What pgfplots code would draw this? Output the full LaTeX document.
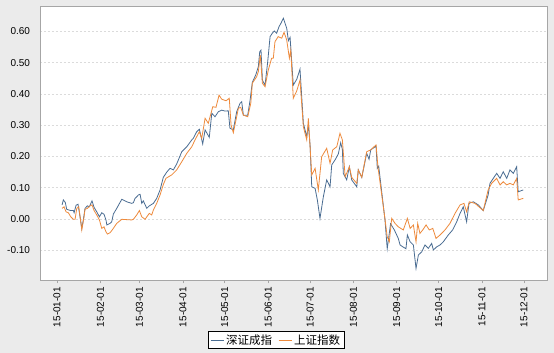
\documentclass[border=0pt]{standalone}
\usepackage{pgfplots}
\pgfplotsset{compat=1.18}
\usepackage{fontspec}
\setmainfont{Liberation Sans}
\newfontfamily\cjk{Noto Sans CJK SC}
\definecolor{bgc}{HTML}{EBEBEB}
\definecolor{framec}{HTML}{A6A6A6}
\definecolor{szblue}{HTML}{4A6D92}
\definecolor{shorange}{HTML}{EE8A3C}
\begin{document}
\begin{tikzpicture}[x=1pt,y=1pt]
\fill[bgc] (0,0) rectangle (554,353);
\useasboundingbox (0,0) rectangle (554,353);
\begin{axis}[
  at={(40pt,73pt)}, anchor=south west,
  scale only axis, width=507pt, height=274pt,
  xmin=-12.2, xmax=350.5, ymin=-0.195, ymax=0.681,
  axis background/.style={fill=white},
  axis line style={framec, line width=0.8pt},
  xtick={0,31,59,90,120,151,181,212,243,273,304,334},
  xticklabels={15-01-01,15-02-01,15-03-01,15-04-01,15-05-01,15-06-01,15-07-01,15-08-01,15-09-01,15-10-01,15-11-01,15-12-01},
  xticklabel style={rotate=90, anchor=east, font=\fontsize{10}{12}\selectfont},
  x tick style={framec, line width=0.6pt},
  tick align=outside, xtick pos=bottom, ytick pos=left,
  major tick length=3.5pt,
  ytick={-0.1,0,0.1,0.2,0.3,0.4,0.5,0.6},
  yticklabels={-0.10,0.00,0.10,0.20,0.30,0.40,0.50,0.60},
  yticklabel style={font=\fontsize{10}{12}\selectfont, xshift=-3pt},
  y tick style={draw=none},
  ymajorgrids, grid style={dash pattern=on 2pt off 2pt, gray!28, line width=0.5pt},
  /pgf/number format/assume math mode=true,
  legend columns=2,
  legend style={at={(0.4655,-0.219)}, anchor=center, draw=black, line width=0.8pt, fill=white,
    font=\cjk\fontsize{11.5}{13}\selectfont, inner xsep=2pt, inner ysep=1pt,
    /tikz/every even column/.append style={column sep=4pt}},
  legend image code/.code={\draw[#1, line width=1pt] (0pt,0pt) -- (13pt,0pt);},
]
\addplot[szblue, line width=0.8pt] coordinates {
(3.6,0.045)(4.5,0.061)(5.9,0.053)(6.9,0.031)(9.8,0.027)(11.7,0.027)(12.2,0.020)(13.6,0.044)
(15.0,0.047)(16.0,0.020)(17.7,-0.030)(18.8,-0.003)(20.0,0.034)(21.7,0.042)(23.1,0.039)(25.0,0.058)
(26.5,0.037)(28.4,0.023)(30.3,0.007)(32.0,0.020)(33.6,0.015)(35.0,-0.003)(35.6,-0.019)(37.9,-0.014)
(39.1,-0.009)(40.3,0.016)(42.7,0.034)(46.3,0.063)(49.9,0.055)(53.4,0.050)(54.6,0.052)(55.8,0.066)
(57.0,0.071)(58.2,0.077)(59.4,0.079)(60.6,0.050)(61.7,0.058)(64.2,0.034)(66.0,0.042)(68.9,0.050)
(71.3,0.066)(73.7,0.093)(76.0,0.133)(78.5,0.150)(80.8,0.162)(83.2,0.157)(85.6,0.176)(89.2,0.215)
(92.8,0.231)(96.4,0.253)(97.5,0.258)(99.9,0.279)(101.8,0.287)(104.2,0.240)(105.9,0.285)(108.9,0.261)
(110.7,0.338)(113.0,0.327)(115.4,0.343)(117.8,0.348)(120.2,0.345)(122.5,0.346)(123.7,0.290)(126.1,0.285)
(128.5,0.343)(130.9,0.370)(132.1,0.375)(133.3,0.332)(136.4,0.332)(138.1,0.380)(139.7,0.437)(142.1,0.460)
(144.0,0.487)(145.0,0.535)(145.9,0.540)(146.9,0.444)(148.8,0.428)(150.7,0.503)(152.4,0.583)(154.0,0.594)
(155.4,0.601)(157.1,0.594)(158.8,0.615)(160.2,0.626)(161.9,0.642)(164.3,0.610)(165.5,0.570)(166.7,0.581)
(169.0,0.428)(171.5,0.447)(173.8,0.479)(176.2,0.306)(178.6,0.263)(179.8,0.300)(181.0,0.237)(182.2,0.103)
(184.6,0.098)(186.2,0.061)(188.1,0.002)(190.5,0.071)(192.9,0.125)(195.3,0.103)(196.5,0.173)(198.9,0.189)
(201.2,0.208)(202.9,0.244)(204.1,0.223)(204.8,0.146)(207.2,0.125)(209.1,0.167)(210.8,0.125)(214.4,0.103)
(215.5,0.157)(218.0,0.133)(221.5,0.210)(223.2,0.191)(224.4,0.221)(228.2,0.233)(229.1,0.162)(230.1,0.169)
(234.6,-0.003)(236.2,-0.095)(238.6,-0.015)(241.3,-0.035)(244.1,-0.062)(245.4,-0.083)(247.7,-0.090)(249.6,-0.095)
(250.6,-0.051)(252.6,-0.073)(254.9,-0.083)(256.8,-0.158)(258.5,-0.115)(260.9,-0.105)(263.2,-0.083)(265.6,-0.094)
(268.0,-0.078)(269.2,-0.099)(271.6,-0.089)(274.0,-0.083)(276.3,-0.073)(279.9,-0.051)(283.0,-0.035)(285.9,-0.009)
(288.3,0.018)(290.6,0.039)(293.0,-0.009)(294.7,0.050)(297.8,0.055)(301.4,0.045)(304.9,0.027)(308.4,0.077)
(309.7,0.114)(314.5,0.146)(316.9,0.130)(319.2,0.151)(321.7,0.130)(324.0,0.157)(326.4,0.146)(328.8,0.167)
(329.9,0.087)(333.5,0.093)
};
\addlegendentry{深证成指}
\addplot[shorange, line width=0.8pt] coordinates {
(3.6,0.034)(5.0,0.039)(6.4,0.023)(8.1,0.020)(9.8,0.007)(11.7,-0.001)(12.9,-0.001)(14.1,0.034)
(15.5,0.039)(16.5,0.007)(17.7,-0.035)(19.3,0.007)(20.0,0.031)(21.7,0.034)(23.6,0.042)(25.0,0.045)
(26.5,0.027)(28.4,0.013)(30.3,-0.003)(32.0,-0.030)(33.6,-0.025)(35.0,-0.041)(36.0,-0.048)(37.9,-0.044)
(39.8,-0.033)(42.7,-0.014)(46.3,-0.001)(53.4,-0.003)(54.6,-0.001)(57.0,0.013)(58.9,0.027)(60.6,0.007)
(63.0,-0.001)(64.2,0.007)(66.0,0.018)(67.7,0.013)(68.9,0.029)(71.3,0.050)(73.7,0.077)(76.0,0.110)
(77.9,0.130)(82.0,0.141)(85.6,0.157)(89.2,0.183)(92.8,0.210)(96.4,0.231)(98.7,0.253)(101.8,0.279)
(103.5,0.258)(105.9,0.322)(108.2,0.306)(111.4,0.359)(113.7,0.357)(115.9,0.396)(117.8,0.383)(120.9,0.378)
(123.2,0.386)(124.5,0.300)(126.1,0.276)(128.5,0.327)(129.7,0.354)(131.4,0.357)(133.3,0.332)(136.4,0.327)
(138.6,0.370)(139.7,0.434)(142.8,0.455)(144.0,0.471)(145.4,0.524)(146.9,0.434)(148.8,0.423)(151.1,0.476)
(153.5,0.514)(154.7,0.514)(155.9,0.567)(158.2,0.583)(160.7,0.578)(162.4,0.597)(164.3,0.572)(166.2,0.514)
(167.2,0.540)(169.0,0.386)(171.5,0.410)(173.8,0.444)(176.2,0.295)(178.6,0.253)(179.8,0.322)(182.2,0.141)
(184.6,0.162)(186.9,0.093)(189.3,0.199)(192.9,0.226)(195.3,0.178)(197.2,0.221)(200.1,0.231)(202.4,0.274)
(204.1,0.253)(206.1,0.135)(209.1,0.167)(210.8,0.133)(214.4,0.114)(215.5,0.157)(218.0,0.133)(221.5,0.215)
(224.4,0.221)(228.2,0.237)(229.6,0.165)(234.6,0.000)(236.2,-0.057)(237.7,-0.073)(239.4,0.002)(241.8,-0.014)
(244.1,-0.025)(247.7,-0.035)(250.6,0.002)(252.6,-0.030)(254.9,-0.019)(256.8,-0.073)(258.0,-0.014)(259.6,-0.046)
(261.6,-0.035)(264.0,-0.019)(266.3,-0.035)(268.8,-0.030)(271.1,-0.062)(274.0,-0.051)(277.5,-0.035)(281.1,-0.014)
(284.7,0.018)(288.3,0.045)(291.1,0.050)(293.0,0.023)(294.9,0.055)(299.0,0.050)(304.9,0.027)(308.4,0.093)
(310.9,0.114)(314.5,0.130)(316.9,0.109)(319.2,0.119)(321.7,0.109)(324.0,0.114)(326.4,0.109)(328.8,0.130)
(329.9,0.061)(333.5,0.066)
};
\addlegendentry{上证指数}
\end{axis}
\end{tikzpicture}
\end{document}
